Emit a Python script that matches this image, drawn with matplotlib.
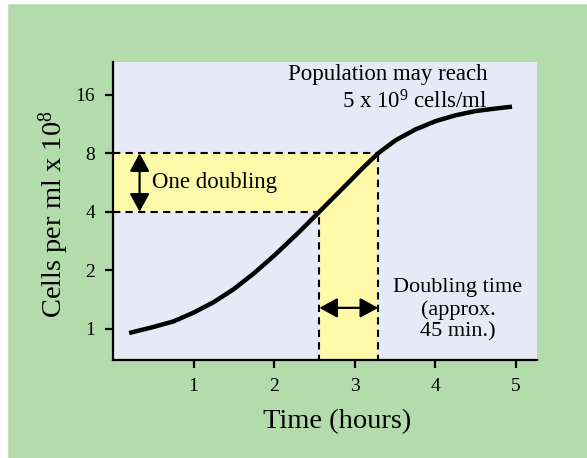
import matplotlib
matplotlib.use("Agg")
import matplotlib.pyplot as plt
from matplotlib.patches import Rectangle

plt.rcParams['font.family'] = ['Liberation Serif', 'DejaVu Serif']
plt.rcParams['mathtext.fontset'] = 'custom'
plt.rcParams['mathtext.rm'] = 'Liberation Serif'
plt.rcParams['mathtext.it'] = 'Liberation Serif:italic'

# growth curve
hours = [0.2, 0.5, 0.75, 1.0, 1.25, 1.5, 1.75, 2.0, 2.3, 2.56, 2.9, 3.1, 3.29,
         3.5, 3.75, 4.0, 4.25, 4.5, 4.75, 4.95]
cells = [0.95, 1.02, 1.09, 1.21, 1.37, 1.60, 1.93, 2.38, 3.12, 4.0, 5.54, 6.73, 8.0,
         9.3, 10.6, 11.7, 12.55, 13.2, 13.6, 13.9]

y_ticks = [1, 2, 4, 8, 16]
x_ticks = [1, 2, 3, 4, 5]

t_low, t_high = 2.56, 3.29   # doubling interval
n_low, n_high = 4, 8

green = '#b3dbac'
lavender = '#e6e9f6'
yellow = '#fffaaa'

fig = plt.figure(figsize=(5.87, 4.58), dpi=100, facecolor=green)
fig.patches.append(Rectangle((0, 0), 7 / 587, 1, transform=fig.transFigure, color='white', zorder=0))
fig.patches.append(Rectangle((0, 1 - 3 / 458), 1, 3 / 458, transform=fig.transFigure, color='white', zorder=0))

ax = fig.add_axes([0.1925, 0.214, 0.7223, 0.6506])
ax.set_facecolor(lavender)
ax.set_yscale('log', base=2)
ax.set_xlim(0, 5.26)
ax.set_ylim(0.69, 23.6)

# yellow shaded regions
ax.fill_between([0, t_high], n_low, n_high, color=yellow, lw=0, zorder=1)
ax.fill_between([t_low, t_high], 0.5, n_high, color=yellow, lw=0, zorder=1)

dash = dict(color='black', lw=1.5, ls=(0, (3.5, 2.5)), zorder=2)
ax.plot([0, t_high], [n_high, n_high], **dash)
ax.plot([0, t_low], [n_low, n_low], **dash)
ax.plot([t_low, t_low], [0.5, n_low], **dash)
ax.plot([t_high, t_high], [0.5, n_high], **dash)

ax.plot(hours, cells, color='black', lw=3.2, solid_capstyle='butt', solid_joinstyle='round', zorder=4)

arrow = dict(arrowstyle='<|-|>,head_length=1.1,head_width=0.6', color='black', lw=1.6,
             shrinkA=0, shrinkB=0)
ax.annotate('', xy=(0.33, n_high), xytext=(0.33, n_low), arrowprops=arrow, zorder=5)
ax.annotate('', xy=(t_low, 1.28), xytext=(t_high, 1.28), arrowprops=arrow, zorder=5)

ax.text(0.49, 5.66, 'One doubling', fontsize=16.5, va='center', ha='left', zorder=5)
ax.text(4.28, 1.25, 'Doubling time\n(approx.\n45 min.)', fontsize=16, ha='center', va='center',
        multialignment='center', linespacing=1.18)
ax.text(4.65, 17.2, 'Population may reach\n5 x 10$^9$ cells/ml', fontsize=16.5, ha='right', va='center',
        multialignment='right', linespacing=1.25)

ax.set_yticks(y_ticks)
ax.set_yticklabels([str(v) for v in y_ticks])
ax.yaxis.set_minor_locator(matplotlib.ticker.NullLocator())
ax.set_xticks(x_ticks)
ax.set_xticklabels([str(v) for v in x_ticks])

for s in ['top', 'right']:
    ax.spines[s].set_visible(False)
for s in ['left', 'bottom']:
    ax.spines[s].set_linewidth(1.6)
ax.tick_params(direction='out', length=6, width=1.6, labelsize=14, pad=7)

ax.set_xlabel('Time (hours)', fontsize=20.5)
ax.set_ylabel('Cells per ml x 10$^8$', fontsize=20.5)
ax.xaxis.set_label_coords(0.528, -0.165)
ax.yaxis.set_label_coords(-0.1, 0.49)

fig.savefig('out.png', dpi=100, facecolor=green)
